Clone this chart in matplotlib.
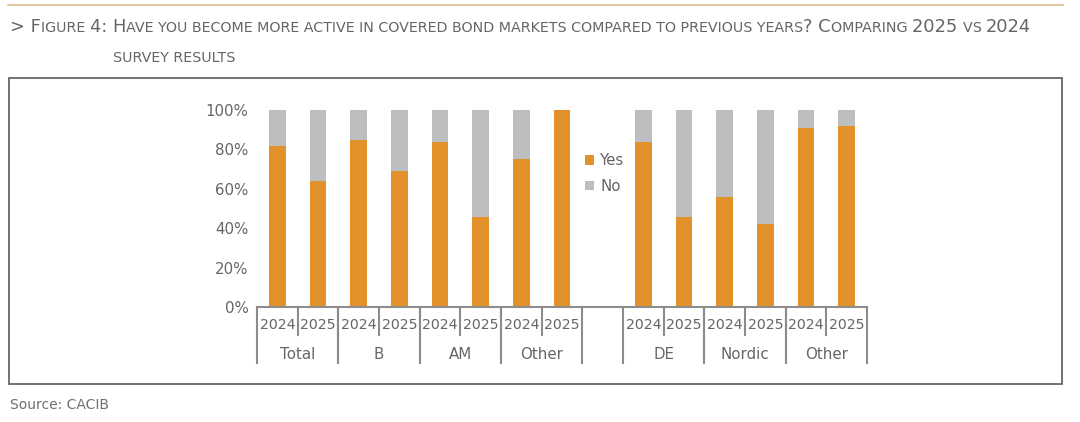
import matplotlib
matplotlib.use("Agg")
import matplotlib.pyplot as plt
from matplotlib.patches import Rectangle
from matplotlib.lines import Line2D

# ---- data ----
group_labels = ["Total", "B", "AM", "Other", "DE", "Nordic", "Other"]
year_labels = ["2024", "2025"]
yes_2024 = [82, 85, 84, 75, 84, 56, 91]
yes_2025 = [64, 69, 46, 100, 46, 42, 92]
no_2024 = [18, 15, 16, 25, 16, 44, 9]
no_2025 = [36, 31, 54, 0, 54, 58, 8]
series_names = ["Yes", "No"]
title_text = ("> Figure 4: Have you become more active in covered bond markets "
              "compared to previous years? Comparing 2025 vs 2024")
title_text2 = "survey results"
source_text = "Source: CACIB"

ORANGE = "#E3912A"
GREY = "#BDBEC0"
TEXT = "#666666"
AXIS = "#8C8C8C"

W, H = 1080, 422
fig = plt.figure(figsize=(W / 100, H / 100), dpi=100)
fig.patch.set_facecolor("white")

# frame and gold rule
fig.add_artist(Rectangle((9 / W, 1 - 384 / H), (1062 - 9) / W, (384 - 77.5) / H,
                         transform=fig.transFigure, fill=False, edgecolor="#5a5a5a", lw=1.2))
fig.add_artist(Line2D([8 / W, 1063 / W], [1 - 4.5 / H, 1 - 4.5 / H],
                      transform=fig.transFigure, color="#DCBE90", lw=1.2))

# ---- axes ----
ax = fig.add_axes([257 / W, 1 - 307.3 / H, 610 / W, 197.3 / H])
positions = []
for g in range(len(group_labels)):
    base = 2 * g + (1 if g >= 4 else 0)
    positions.append((base, base + 1))
x24 = [p[0] for p in positions]
x25 = [p[1] for p in positions]
bw = 0.41
ax.bar(x24, [v / 100 for v in yes_2024], width=bw, color=ORANGE, label=series_names[0])
ax.bar(x25, [v / 100 for v in yes_2025], width=bw, color=ORANGE)
ax.bar(x24, [v / 100 for v in no_2024], bottom=[v / 100 for v in yes_2024], width=bw,
       color=GREY, label=series_names[1])
ax.bar(x25, [v / 100 for v in no_2025], bottom=[v / 100 for v in yes_2025], width=bw,
       color=GREY)

ax.set_xlim(-0.5, 14.5)
ax.set_ylim(0, 1)
ax.set_yticks([0, 0.2, 0.4, 0.6, 0.8, 1.0])
ax.set_yticklabels(["0%", "20%", "40%", "60%", "80%", "100%"])
ax.tick_params(axis="y", length=0, labelsize=10.8, labelcolor=TEXT, pad=6)
ax.set_xticks([])
for s in ["left", "right", "top"]:
    ax.spines[s].set_visible(False)
ax.spines["bottom"].set_color(AXIS)
ax.spines["bottom"].set_linewidth(1.5)

tr = ax.get_xaxis_transform()
short_y = -0.14
long_y = -0.282
for (a, b), gl in zip(positions, group_labels):
    ax.text(a, -0.09, year_labels[0], transform=tr, ha="center", va="center",
            fontsize=10.2, color=TEXT)
    ax.text(b, -0.09, year_labels[1], transform=tr, ha="center", va="center",
            fontsize=10.2, color=TEXT)
    ax.text((a + b) / 2, -0.237, gl, transform=tr, ha="center", va="center",
            fontsize=10.8, color=TEXT)
    ax.plot([a + 0.5, a + 0.5], [0, short_y], transform=tr, color=AXIS, lw=1.5,
            clip_on=False)
    ax.plot([a - 0.5, a - 0.5], [0, long_y], transform=tr, color=AXIS, lw=1.5,
            clip_on=False)
    ax.plot([b + 0.5, b + 0.5], [0, long_y], transform=tr, color=AXIS, lw=1.5,
            clip_on=False)

leg = ax.legend(loc="upper left", bbox_to_anchor=(0.528, 0.81), frameon=False,
                fontsize=10.8, handlelength=0.6, handleheight=0.6, handletextpad=0.4,
                labelspacing=0.7, borderaxespad=0)
for t in leg.get_texts():
    t.set_color(TEXT)

# ---- small caps title ----
renderer = fig.canvas.get_renderer()


def measure(s, size):
    t1 = fig.text(0, 0, "|" + s + "|", fontsize=size)
    t2 = fig.text(0, 0, "||", fontsize=size)
    w = t1.get_window_extent(renderer).width - t2.get_window_extent(renderer).width
    t1.remove()
    t2.remove()
    return w


def runs_of(s):
    runs = []
    cur, cls = "", None
    for ch in s:
        if ch == " ":
            c = cls if cls is not None else "big"
        else:
            c = "small" if ch.islower() else "big"
        if cls is None or c == cls:
            cur += ch
            cls = c
        else:
            runs.append((cur, cls))
            cur, cls = ch, c
    if cur:
        runs.append((cur, cls))
    return runs


def sc_width(s, big, small):
    return sum(measure(r.upper() if c == "small" else r, small if c == "small" else big)
               for r, c in runs_of(s))


def sc_draw(x0, yb, s, big, small, color):
    for r, c in runs_of(s):
        txt = r.upper() if c == "small" else r
        size = small if c == "small" else big
        fig.text(x0 / W, 1 - yb / H, txt, fontsize=size, color=color,
                 ha="left", va="baseline")
        x0 += measure(txt, size)
    return x0


big, small = 13.5, 10.8
total = sc_width(title_text, big, small)
scale = 1029 / total
big *= scale
small *= scale
prefix = "> Figure 4: "
x_have = 10 + sc_width(prefix, big, small)
sc_draw(10, 32.3, title_text, big, small, TEXT)
sc_draw(x_have, 61.7, title_text2, big, small, TEXT)

fig.text(10 / W, 1 - 405 / H, source_text, fontsize=10, color="#707070",
         ha="left", va="center")

fig.savefig("out.png", dpi=100, facecolor="white")
